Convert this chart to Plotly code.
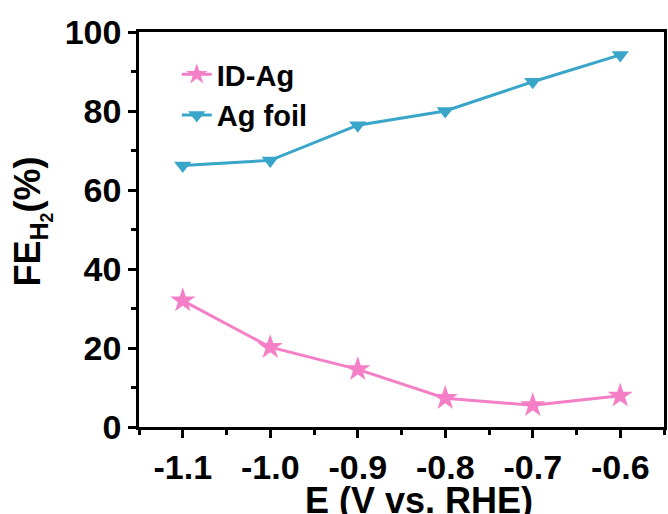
import plotly.graph_objects as go

E = [-1.1, -1.0, -0.9, -0.8, -0.7, -0.6]
id_ag = [32.0, 20.2, 14.6, 7.3, 5.5, 7.9]
ag_foil = [66.2, 67.5, 76.4, 80.0, 87.4, 94.2]
x_ticks = [-1.1, -1.0, -0.9, -0.8, -0.7, -0.6]
x_tick_text = ["-1.1", "-1.0", "-0.9", "-0.8", "-0.7", "-0.6"]
y_ticks = [0, 20, 40, 60, 80, 100]

PINK = "#F47FC6"
BLUE = "#38A5C9"
FONT = "Liberation Sans"

fig = go.Figure()
fig.add_trace(go.Scatter(x=E, y=id_ag, name="ID-Ag", mode="lines+markers",
                         line=dict(color=PINK, width=3),
                         marker=dict(symbol="star", size=19, color=PINK)))
fig.add_trace(go.Scatter(x=E, y=ag_foil, name="Ag foil", mode="lines+markers",
                         line=dict(color=BLUE, width=3),
                         marker=dict(symbol="triangle-down", size=15, color=BLUE)))

axis_common = dict(showline=True, linecolor="black", linewidth=2.5, mirror=True,
                   ticks="outside", ticklen=8, tickwidth=2.5, tickcolor="black",
                   showgrid=False, zeroline=False,
                   tickfont=dict(family=FONT, size=34, color="black", weight="bold"))

fig.update_xaxes(range=[-1.15, -0.55], tickvals=x_ticks, ticktext=x_tick_text,
                 minor=dict(ticks="outside", ticklen=5, tickwidth=2.5, tickcolor="black", dtick=0.1, tick0=-1.05),
                 **axis_common)
fig.update_yaxes(range=[0, 100], tickvals=y_ticks,
                 minor=dict(ticks="outside", ticklen=5, tickwidth=2.5, tickcolor="black", dtick=20, tick0=10),
                 **axis_common)

fig.add_annotation(text="E (V vs. RHE)", xref="paper", yref="paper", x=0.534, y=0,
                   yshift=-51, yanchor="top", showarrow=False,
                   font=dict(family=FONT, size=36, color="black", weight="bold"))
fig.add_annotation(text="FE<sub>H<sub>2</sub></sub>(%)", xref="paper", yref="paper",
                   x=0, xshift=-107, y=0.52, textangle=-90, xanchor="center", showarrow=False,
                   font=dict(family=FONT, size=36, color="black", weight="bold"))

fig.update_layout(width=668, height=514, margin=dict(l=139, r=1, t=32, b=87),
                  paper_bgcolor="white", plot_bgcolor="white",
                  legend=dict(x=0.072, y=0.957, xanchor="left", yanchor="top",
                              bgcolor="rgba(0,0,0,0)", tracegroupgap=0,
                              font=dict(family=FONT, size=29, color="black", weight="bold")),
                  showlegend=True)

fig.write_html("out.html")
